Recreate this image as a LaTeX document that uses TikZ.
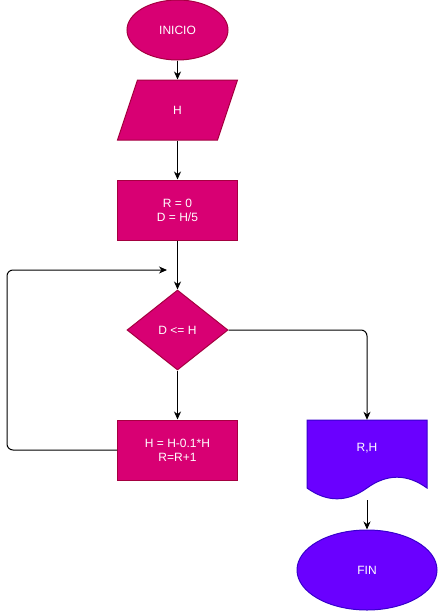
\documentclass[tikz,border=0pt]{standalone}
\usepackage{fontspec}
\setmainfont{Liberation Sans}
\usetikzlibrary{arrows.meta,shapes.geometric}
\definecolor{mag}{HTML}{D80073}
\definecolor{magd}{HTML}{A50040}
\definecolor{pur}{HTML}{6A00FF}
\definecolor{purd}{HTML}{3700CC}
\begin{document}
\begin{tikzpicture}[x=1pt,y=-1pt,
  font=\fontsize{12}{14}\selectfont,
  base/.style={text=white,align=center,line width=1pt},
  magshape/.style={base,fill=mag,draw=magd},
  purshape/.style={base,fill=pur,draw=purd},
  conn/.style={line width=1pt,-{Stealth[length=8pt,width=7pt,inset=2.5pt]}},
  term/.style={ellipse,inner sep=0pt},
  procbox/.style={rectangle,minimum width=120pt,minimum height=60pt,inner sep=0pt}
]
\useasboundingbox (0,0) rectangle (438,611);
% INICIO
\node[magshape,term,minimum width=101pt,minimum height=60pt] (ini) at (177.5,30) {INICIO};
% input H
\fill[mag,draw=magd,line width=1pt] (137.5,80) -- (237.5,80) -- (217.5,140) -- (117.5,140) -- cycle;
\node[base,procbox] (inp) at (177.5,110) {H};
% init
\node[magshape,procbox] (init) at (177.5,210) {R = 0\\D = H/5};
% decision
\node[magshape,diamond,minimum width=101pt,minimum height=80pt,inner sep=0pt] (cond) at (177.5,330) {D <= H};
% update
\node[magshape,procbox] (upd) at (177.5,450) {H = H-0.1*H\\R=R+1};
% document
\fill[pur,draw=purd,line width=1pt] (307,420) -- (427,420) -- (427,488)
  .. controls (407,473.6) and (387,473.6) .. (367,488)
  .. controls (347,502.4) and (327,502.4) .. (307,488) -- cycle;
\node[procbox,minimum height=80pt] (doc) at (367,460) {};
\node[base] (doclabel) at (367,448) {R,H};
% FIN
\node[purshape,term,minimum width=140pt,minimum height=80pt] (fin) at (367,570) {FIN};
% connectors
\draw[conn] (ini) -- (inp);
\draw[conn] (inp) -- (init);
\draw[conn] (init) -- (cond);
\draw[conn] (cond) -- (upd);
\draw[conn,rounded corners=6pt] (cond.east) -| (doc.north);
\coordinate (loopend) at (167,270);
\draw[conn,rounded corners=6pt] (upd.west) -- (7,450) |- (loopend);
\draw[conn] (doc) -- (fin);
\end{tikzpicture}
\end{document}
